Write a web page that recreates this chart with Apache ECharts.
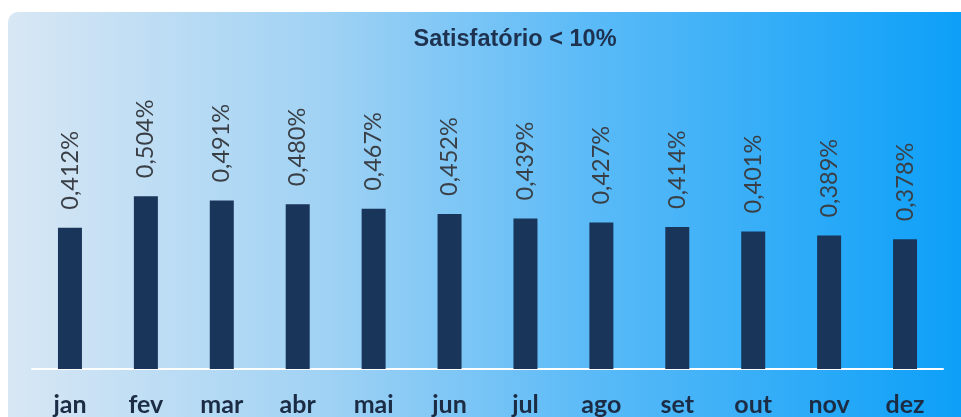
<!DOCTYPE html>
<html><head><meta charset="utf-8">
<script src="https://cdn.jsdelivr.net/npm/echarts@6/dist/echarts.min.js"></script>
<style>html,body{margin:0;padding:0;background:#fff}#c{width:961px;height:417px}</style>
</head><body><div id="c"></div>
<script>
const titleText = 'Satisfatório < 10%';
const categories = ['jan','fev','mar','abr','mai','jun','jul','ago','set','out','nov','dez'];
const values = [0.412,0.504,0.491,0.480,0.467,0.452,0.439,0.427,0.414,0.401,0.389,0.378];

const chart = echarts.init(document.getElementById('c'), null, {renderer:'canvas'});
chart.setOption({
  animation:false,
  graphic:[{
    type:'rect', z:-10, silent:true,
    shape:{x:8,y:12,width:960,height:420,r:[10,0,0,0]},
    style:{fill:new echarts.graphic.LinearGradient(0,0,1,0,[
      {offset:0,color:'#d8e7f4'},
      {offset:0.33,color:'#a0d2f4'},
      {offset:0.6,color:'#5cbbf7'},
      {offset:1,color:'#0b9ff8'}
    ])}
  },{
    type:'text', z:10, silent:true, x:515, y:40,
    style:{text:titleText, align:'center', verticalAlign:'middle',
      font:'bold 23.5px "Liberation Sans", Arial, sans-serif', fill:'#1e3250'}
  }],
  grid:{left:32,right:18,top:26,bottom:47,containLabel:false},
  xAxis:{type:'category',data:categories,
    axisLine:{show:true,lineStyle:{color:'#ffffff',width:2}},
    axisTick:{show:false},
    axisLabel:{margin:23,fontFamily:'Lato',fontWeight:'bold',fontSize:25,color:'#1b2c44'}},
  yAxis:{type:'value',min:0,max:1,show:false,splitLine:{show:false}},
  series:[{type:'bar',data:values,barWidth:24,
    itemStyle:{color:'#19355a'},
    label:{show:true,position:'top',rotate:90,distance:18,align:'left',verticalAlign:'middle',
      fontFamily:'Lato',fontSize:23.5,color:'#3a3f46',
      formatter:p=>p.value.toFixed(3).replace('.',',')+'%'}}]
});
</script></body></html>
